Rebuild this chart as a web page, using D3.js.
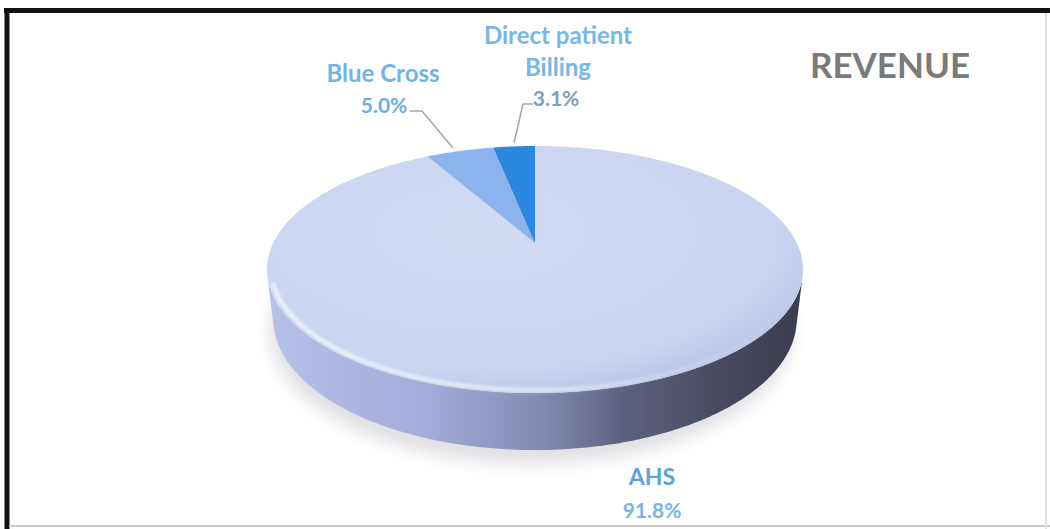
<!DOCTYPE html>
<html>
<head>
<meta charset="utf-8">
<script src="https://cdn.jsdelivr.net/npm/d3@7"></script>
<style>
  body { margin: 0; background: #fff; }
  text { font-family: Lato, "Open Sans", sans-serif; font-weight: 700; }
</style>
</head>
<body>
<svg id="chart"></svg>
<script>
// chart data
const categories = ["AHS", "Blue Cross", "Direct patient Billing"];
const shares = [91.8, 5.0, 3.1];
const labelLines = [["AHS"], ["Blue Cross"], ["Direct patient", "Billing"]];
const title = "REVENUE";

const W = 1050, H = 529;
const svg = d3.select("#chart").attr("width", W).attr("height", H);
const defs = svg.append("defs");

// perspective camera for the 3D disc
const cx = 535, cy = 243;
const sinE = 0.45, cosE = 0.893, D = 4.16, f = 1089, depthH = 0.212;

function proj(a, r, z) {
  const u = r * Math.sin(a), v = -r * Math.cos(a);
  const dd = D - v * cosE - z * sinE;
  return [cx + f * u / dd, cy + f * (v * sinE - z * cosE) / dd];
}

function arcPoints(a0, a1, r, z) {
  const n = Math.max(4, Math.ceil(Math.abs(a1 - a0) / 0.01));
  return d3.range(n + 1).map(i => proj(a0 + (a1 - a0) * i / n, r, z));
}

const line = d3.line();
const colors = ["#cfd7f2", "#8cb3ec", "#2b87df"];

const pie = d3.pie().sort(null).value(d => d)
  .startAngle(0).endAngle(2 * Math.PI);
const arcs = pie(shares);

// silhouette angles of the cylinder wall
const tang = Math.acos(-1 / (D * cosE));
const s0 = tang, s1 = 2 * Math.PI - tang;

// filters and gradients
const blur = defs.append("filter").attr("id", "blur")
  .attr("x", "-20%").attr("y", "-40%").attr("width", "140%").attr("height", "180%");
blur.append("feGaussianBlur").attr("stdDeviation", 8);
const soft = defs.append("filter").attr("id", "soft")
  .attr("x", "-10%").attr("y", "-50%").attr("width", "120%").attr("height", "200%");
soft.append("feGaussianBlur").attr("stdDeviation", 1.8);

const leftX = proj(s1, 1, 0)[0], rightX = proj(s0, 1, 0)[0];
const wallGrad = defs.append("linearGradient").attr("id", "wall")
  .attr("gradientUnits", "userSpaceOnUse")
  .attr("x1", leftX).attr("x2", rightX).attr("y1", 0).attr("y2", 0);
[[0, "#b6c1e8"], [0.3, "#a2acd9"], [0.52, "#8089ae"], [0.66, "#5f6282"],
 [0.85, "#48495f"], [1, "#3b3c4f"]].forEach(([o, c]) =>
  wallGrad.append("stop").attr("offset", o).attr("stop-color", c));

const topGrad = defs.append("radialGradient").attr("id", "topface")
  .attr("cx", "40%").attr("cy", "35%").attr("r", "70%");
topGrad.append("stop").attr("offset", 0).attr("stop-color", "#d2daf4");
topGrad.append("stop").attr("offset", 0.8).attr("stop-color", "#cad3f0");
topGrad.append("stop").attr("offset", 1).attr("stop-color", "#b9c3e6");

const rimGrad = defs.append("linearGradient").attr("id", "rim")
  .attr("gradientUnits", "userSpaceOnUse")
  .attr("x1", leftX).attr("x2", rightX).attr("y1", 0).attr("y2", 0);
[[0, "#ffffff", 0.75], [0.5, "#ffffff", 0.55], [0.8, "#ffffff", 0.15], [1, "#ffffff", 0]]
  .forEach(([o, c, op]) => rimGrad.append("stop").attr("offset", o)
    .attr("stop-color", c).attr("stop-opacity", op));

// frame
svg.append("line").attr("x1", 4).attr("x2", W).attr("y1", 10.5).attr("y2", 10.5)
  .attr("stroke", "#111").attr("stroke-width", 5);
svg.append("line").attr("x1", 7).attr("x2", 7).attr("y1", 8).attr("y2", H)
  .attr("stroke", "#111").attr("stroke-width", 5);
svg.append("line").attr("x1", 9).attr("x2", W).attr("y1", 526).attr("y2", 526)
  .attr("stroke", "#c8c8c8").attr("stroke-width", 2);
svg.append("line").attr("x1", 1046).attr("x2", 1046).attr("y1", 13).attr("y2", H)
  .attr("stroke", "#e2e2e2").attr("stroke-width", 2);

// soft shadow under the disc
const shadowPts = arcPoints(0, 2 * Math.PI, 1.0, -depthH - 0.03);
svg.append("path")
  .attr("d", line(shadowPts.map(p => [p[0] - 4, p[1] + 6])) + "Z")
  .attr("fill", "#9a9aa8").attr("opacity", 0.3).attr("filter", "url(#blur)");

// wall
const wallTop = arcPoints(s0, s1, 1, 0);
const wallBot = arcPoints(s1, s0, 1, -depthH);
svg.append("path").attr("d", line(wallTop.concat(wallBot)) + "Z")
  .attr("fill", "url(#wall)");

// top face slices
svg.append("g").selectAll("path")
  .data(arcs)
  .join("path")
  .attr("d", d => line([proj(0, 0, 0)].concat(arcPoints(d.startAngle, d.endAngle, 1, 0))) + "Z")
  .attr("fill", (d, i) => i === 0 ? "url(#topface)" : colors[i]);

// front rim highlight
svg.append("path")
  .attr("d", line(arcPoints(s0 + 0.15, s1 - 0.05, 0.985, 0)))
  .attr("fill", "none").attr("stroke", "url(#rim)").attr("stroke-width", 4)
  .attr("filter", "url(#soft)");

// labels
const fmt = v => d3.format(".1f")(v) + "%";
const labelPos = [
  { x: 652, y: 485, size: 23, lead: null },
  { x: 383, y: 82, size: 24, lead: [[410, 111], [422, 111], [453, 148]] },
  { x: 558, y: 44, size: 24, lead: [[533, 104], [523, 104], [514, 143]] }
];
const nameColors = ["#5ba3dc", "#72b4e6", "#76b6e9"];
const pctColors = ["#74b6e8", "#6aaee4", "#7d9fc4"];
const lineGap = 32;

const labels = svg.append("g").selectAll("g")
  .data(categories)
  .join("g");

labels.each(function(c, i) {
  const g = d3.select(this);
  const p = labelPos[i];
  labelLines[i].forEach((t, j) => {
    g.append("text").attr("x", p.x).attr("y", p.y + j * lineGap)
      .attr("text-anchor", "middle").attr("font-size", p.size)
      .attr("fill", nameColors[i]).text(t);
  });
  const pctY = i === 0 ? p.y + 33 : i === 1 ? 113 : 106;
  const pctX = i === 0 ? p.x : i === 1 ? 384 : 556;
  g.append("text").attr("x", pctX).attr("y", pctY)
    .attr("text-anchor", "middle").attr("font-size", 21)
    .attr("fill", pctColors[i]).text(fmt(shares[i]));
  if (p.lead) {
    g.append("path").attr("d", line(p.lead)).attr("fill", "none")
      .attr("stroke", "#a6a6a6").attr("stroke-width", 1.5);
  }
});

// title
svg.append("text").attr("x", 890).attr("y", 78).attr("text-anchor", "middle")
  .attr("font-size", 35).attr("fill", "#7a7a7a").text(title);
</script>
</body>
</html>
